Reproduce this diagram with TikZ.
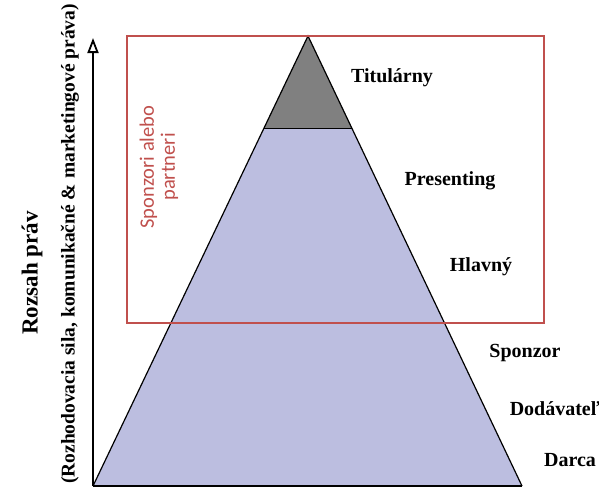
\documentclass[tikz,border=0pt]{standalone}
\usepackage{fontspec}
\setmainfont{Liberation Serif}
\newfontfamily\calibrifont{Carlito}
\usetikzlibrary{arrows.meta}
\definecolor{pyrfill}{RGB}{188,190,224}
\definecolor{topfill}{RGB}{128,128,128}
\definecolor{boxred}{RGB}{192,80,77}
\tikzset{
  lvl/.style={font=\fontsize{20}{24}\selectfont\bfseries, inner sep=0pt},
  axislabel/.style={rotate=90, inner sep=0pt},
}
\begin{document}
\begin{tikzpicture}[x=1pt,y=-1pt]
\useasboundingbox (0,0) rectangle (599,488);
% pyramid
\coordinate (apex) at (308,36);
\coordinate (bl) at (93,486);
\coordinate (br) at (522,486);
\coordinate (tl) at (264,128);
\coordinate (tr) at (352,128);
\coordinate (axtop) at (93,38);
\fill[pyrfill] (bl) -- (apex) -- (br) -- cycle;
\fill[topfill] (tl) -- (apex) -- (tr) -- cycle;
\draw[line width=1.2pt] (bl) -- (apex) -- (br);
\draw[line width=1pt] (tl) -- (tr);
\draw[line width=1.8pt] (bl) -- (br);
% box
\draw[boxred, line width=1.2pt] (127,36) rectangle (544,323);
\node[axislabel, text=boxred, align=center, font=\calibrifont\fontsize{20.5}{21}\selectfont] (partners) at (159,167) {Sponzori alebo\\partneri};
% axis
\draw[line width=2.2pt, -{Triangle[open,length=15pt,width=11pt,line width=1.8pt]}] (bl) -- (axtop);
\node[axislabel, font=\fontsize{23}{27}\selectfont\bfseries] (title) at (32,273) {Rozsah práv};
\node[axislabel, font=\fontsize{19.5}{23}\selectfont\bfseries] (subtitle) at (70,244) {(Rozhodovacia sila, komunikačné \& marketingové práva)};
% levels
\node[lvl] (titularny) at (392,78) {Titulárny};
\node[lvl] (presenting) at (450,181) {Presenting};
\node[lvl] (hlavny) at (481,267) {Hlavný};
\node[lvl] (sponzor) at (525,353) {Sponzor};
\node[lvl] (dodavatel) at (555,409) {Dodávateľ};
\node[lvl] (darca) at (570,460) {Darca};
\end{tikzpicture}
\end{document}
